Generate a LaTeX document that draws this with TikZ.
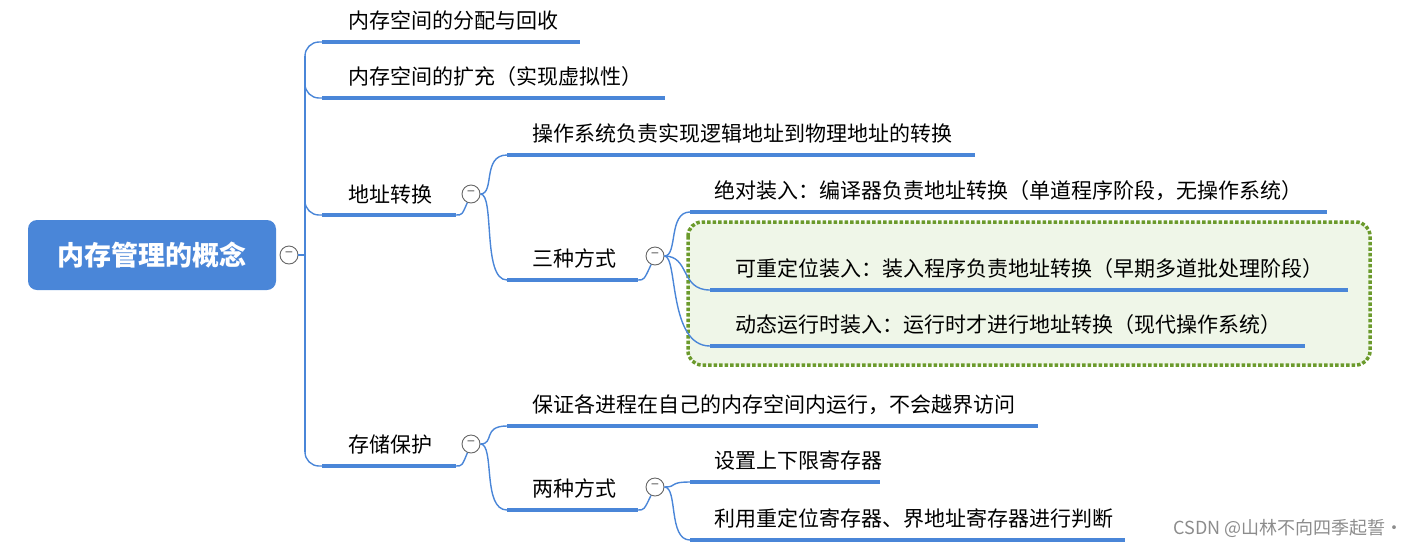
\documentclass[tikz,border=0pt]{standalone}
\usepackage{fontspec}
\setmainfont{Noto Sans CJK SC}
\begin{document}
\begin{tikzpicture}[x=1pt,y=-1pt,
  ul/.style={draw=lineblue,line width=3.5pt},
  cn/.style={draw=lineblue,line width=1.4pt},
  lbl/.style={anchor=base west,inner sep=0pt,font=\fontsize{21}{24}\selectfont,text=black},
  col/.style={circle,draw=black!60,fill=white,line width=0.9pt,minimum size=18pt,inner sep=0pt,font=\fontsize{14}{14}\selectfont,text=black!65}]
\definecolor{lineblue}{HTML}{4A86D8}
\definecolor{rootblue}{HTML}{4A86D8}
\definecolor{dotgreen}{HTML}{6B9A2C}
\definecolor{bggreen}{HTML}{EFF6E8}
\useasboundingbox (0,0) rectangle (1417,547);
% highlight box
\draw[dotgreen,fill=bggreen,line width=3.5pt,dotted,rounded corners=14pt] (688,222) rectangle (1370,365);
% root
\node[fill=rootblue,rounded corners=9pt,minimum width=248pt,minimum height=70pt,text=white,font=\fontsize{27}{30}\selectfont\bfseries] (root) at (152,255) {内存管理的概念};
\node[col] (c0) at (289,255) {−};
% level 1 underlines
\coordinate (a1) at (322,42); \coordinate (a1e) at (580,42);
\coordinate (a2) at (322,98); \coordinate (a2e) at (665,98);
\coordinate (a3) at (322,215); \coordinate (a3e) at (456,215);
\coordinate (a4) at (322,466); \coordinate (a4e) at (456,466);
\draw[ul] (a1)--(a1e); \draw[ul] (a2)--(a2e); \draw[ul] (a3)--(a3e); \draw[ul] (a4)--(a4e);
\node[lbl] (t1) at (348,28) {内存空间的分配与回收};
\node[lbl] (t2) at (348,84) {内存空间的扩充（实现虚拟性）};
\node[lbl] (t3) at (348,202) {地址转换};
\node[lbl] (t4) at (348,452) {存储保护};
\draw[cn] (c0.east) -- (305,255);
\draw[cn] (305,56) -- (305,452);
\draw[cn,rounded corners=14pt] (305,80) -- (305,42) -- (a1);
\draw[cn,rounded corners=14pt] (305,420) -- (305,466) -- (a4);
\draw[cn,rounded corners=14pt] (305,70) -- (305,98) -- (a2);
\draw[cn,rounded corners=14pt] (305,190) -- (305,215) -- (a3);
\node[col] (c3) at (471,194) {−};
\node[col] (c4) at (471,444) {−};
\draw[cn] (a3e) .. controls (462,215) .. (c3);
\draw[cn] (a4e) .. controls (462,466) .. (c4);
% level 2
\coordinate (b1) at (507,155); \coordinate (b1e) at (975,155);
\coordinate (b2) at (507,280); \coordinate (b2e) at (638,280);
\coordinate (b3) at (507,426); \coordinate (b3e) at (1038,426);
\coordinate (b4) at (507,510); \coordinate (b4e) at (638,510);
\draw[ul] (b1)--(b1e); \draw[ul] (b2)--(b2e); \draw[ul] (b3)--(b3e); \draw[ul] (b4)--(b4e);
\node[lbl] (u1) at (532,141) {操作系统负责实现逻辑地址到物理地址的转换};
\node[lbl] (u2) at (532,266) {三种方式};
\node[lbl] (u3) at (532,412) {保证各进程在自己的内存空间内运行，不会越界访问};
\node[lbl] (u4) at (532,496) {两种方式};
\draw[cn] (c3.east) .. controls (495,194) and (482,155) .. (b1);
\draw[cn] (c3.east) .. controls (495,194) and (482,280) .. (b2);
\draw[cn] (c4.east) .. controls (495,444) and (482,426) .. (b3);
\draw[cn] (c4.east) .. controls (495,444) and (482,510) .. (b4);
\node[col] (c5) at (655,256) {−};
\node[col] (c6) at (655,487) {−};
\draw[cn] (b2e) .. controls (644,280) .. (c5);
\draw[cn] (b4e) .. controls (644,510) .. (c6);
% level 3
\coordinate (d1) at (690,212); \coordinate (d1e) at (1327,212);
\coordinate (d2) at (710,290); \coordinate (d2e) at (1348,290);
\coordinate (d3) at (710,346); \coordinate (d3e) at (1305,346);
\coordinate (d4) at (690,482); \coordinate (d4e) at (880,482);
\coordinate (d5) at (690,540); \coordinate (d5e) at (1125,540);
\draw[ul] (d1)--(d1e); \draw[ul] (d2)--(d2e); \draw[ul] (d3)--(d3e); \draw[ul] (d4)--(d4e); \draw[ul] (d5)--(d5e);
\node[lbl] (v1) at (714,198) {绝对装入：编译器负责地址转换（单道程序阶段，无操作系统）};
\node[lbl] (v2) at (735,276) {可重定位装入：装入程序负责地址转换（早期多道批处理阶段）};
\node[lbl] (v3) at (735,332) {动态运行时装入：运行时才进行地址转换（现代操作系统）};
\node[lbl] (v4) at (714,468) {设置上下限寄存器};
\node[lbl] (v5) at (714,526) {利用重定位寄存器、界地址寄存器进行判断};
\draw[cn] (c5.east) .. controls (678,256) and (668,212) .. (d1);
\draw[cn] (c5.east) .. controls (690,256) and (680,290) .. (d2);
\draw[cn] (c5.east) .. controls (678,256) and (668,346) .. (d3);
\draw[cn] (c6.east) .. controls (678,487) and (668,482) .. (d4);
\draw[cn] (c6.east) .. controls (678,487) and (668,540) .. (d5);
\node[anchor=base east,inner sep=0pt,text=black!45,font=\fontsize{18}{20}\selectfont] (wm) at (1404,534) {CSDN @山林不向四季起誓·};
\end{tikzpicture}
\end{document}
